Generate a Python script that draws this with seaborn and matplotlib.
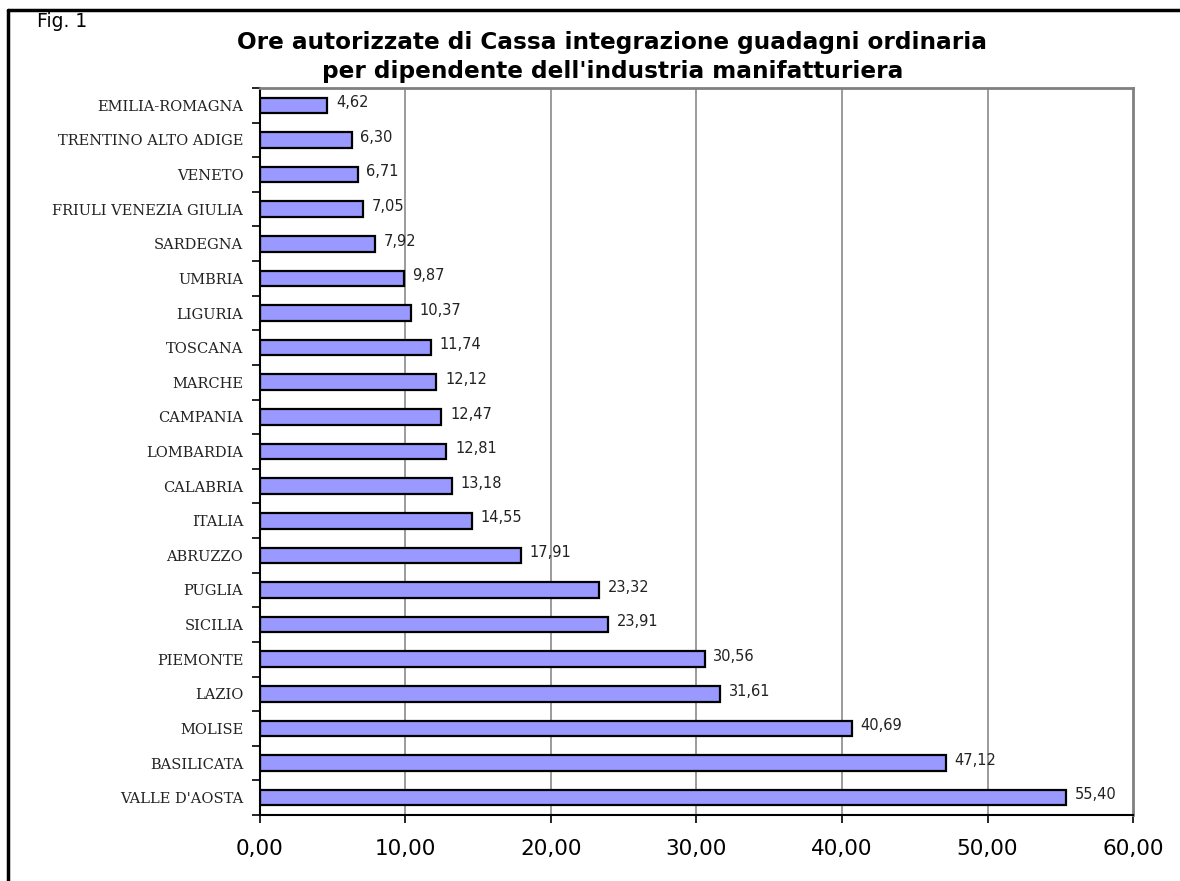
import matplotlib
matplotlib.use("Agg")
import matplotlib.pyplot as plt
from matplotlib.lines import Line2D
from matplotlib.ticker import FixedLocator, FuncFormatter
import numpy as np
import pandas as pd
import seaborn as sns

regions = [
    "EMILIA-ROMAGNA", "TRENTINO ALTO ADIGE", "VENETO", "FRIULI VENEZIA GIULIA",
    "SARDEGNA", "UMBRIA", "LIGURIA", "TOSCANA", "MARCHE", "CAMPANIA",
    "LOMBARDIA", "CALABRIA", "ITALIA", "ABRUZZO", "PUGLIA", "SICILIA",
    "PIEMONTE", "LAZIO", "MOLISE", "BASILICATA", "VALLE D'AOSTA",
]
ore = [
    4.62, 6.30, 6.71, 7.05, 7.92, 9.87, 10.37, 11.74, 12.12, 12.47,
    12.81, 13.18, 14.55, 17.91, 23.32, 23.91, 30.56, 31.61, 40.69, 47.12, 55.40,
]
x_ticks = [0, 10, 20, 30, 40, 50, 60]

df = pd.DataFrame({"regione": regions, "ore": ore})

sns.set_theme(style="white")
plt.rcParams["font.family"] = ["DejaVu Sans"]

fig = plt.figure(figsize=(11.8, 8.81), dpi=100)
ax = fig.add_axes([0.2203, 0.0749, 0.9602 - 0.2203, 0.9001 - 0.0749])

sns.barplot(
    data=df, x="ore", y="regione", orient="h", ax=ax,
    color="#9999FF", saturation=1, edgecolor="black", linewidth=1.6, width=0.45,
)

n = len(regions)
ax.set_xlim(0, 60)
ax.set_ylim(n - 0.5, -0.5)
ax.set_xlabel("")
ax.set_ylabel("")

# value labels with decimal comma
for i, v in enumerate(ore):
    ax.text(v + 0.6, i - 0.08, f"{v:.2f}".replace(".", ","),
            va="center", ha="left", fontsize=10.5, color="#222222")

# vertical gridlines
ax.xaxis.set_major_locator(FixedLocator(x_ticks))
ax.xaxis.set_major_formatter(FuncFormatter(lambda v, p: f"{v:.2f}".replace(".", ",")))
for t in x_ticks[1:-1]:
    ax.axvline(t, color="#808080", linewidth=1.1, zorder=0)

ax.tick_params(axis="x", direction="out", length=6, width=1.2, color="black",
               labelsize=15.5, pad=11, bottom=True)
for lab in ax.get_xticklabels():
    lab.set_color("black")

# category labels; ticks at category boundaries
ax.set_yticks(range(n))
ax.set_yticklabels(regions, fontfamily="DejaVu Serif", fontsize=10.5, color="#222222")
ax.tick_params(axis="y", which="major", length=0, pad=12)
ax.yaxis.set_minor_locator(FixedLocator(np.arange(-0.5, n, 1.0)))
ax.tick_params(axis="y", which="minor", direction="out", length=6, width=1.2,
               color="black", left=True)

for side in ["top", "right"]:
    ax.spines[side].set_visible(True)
    ax.spines[side].set_color("#808080")
    ax.spines[side].set_linewidth(2)
for side in ["left", "bottom"]:
    ax.spines[side].set_color("black")
    ax.spines[side].set_linewidth(1.5)

fig.text(0.519, 0.9355, "Ore autorizzate di Cassa integrazione guadagni ordinaria\n"
         "per dipendente dell'industria manifatturiera",
         ha="center", va="center", fontsize=16.7, fontweight="bold",
         linespacing=1.3, color="black")
fig.text(0.031, 0.976, "Fig. 1", ha="left", va="center", fontsize=13.5, color="black")

# outer frame (top and left edges)
fig.add_artist(Line2D([0.0068, 0.0068], [0.0, 0.9886], transform=fig.transFigure,
                      color="black", linewidth=2.5))
fig.add_artist(Line2D([0.0068, 1.0], [0.9886, 0.9886], transform=fig.transFigure,
                      color="black", linewidth=2.5))

fig.savefig("out.png", dpi=100)
